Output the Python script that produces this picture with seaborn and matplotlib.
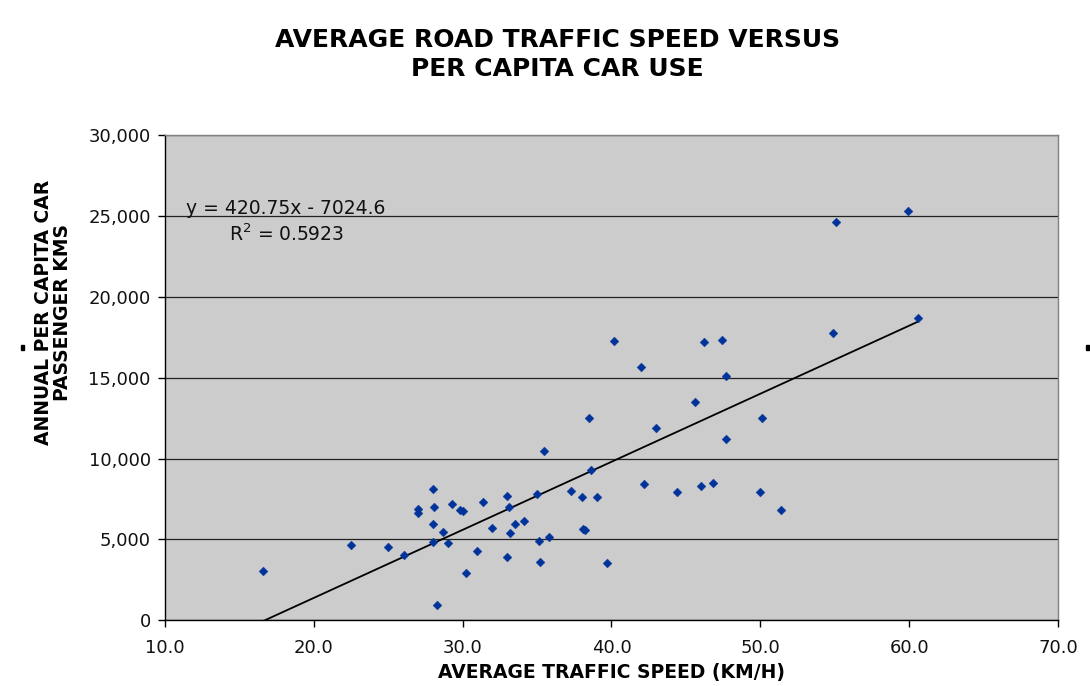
import matplotlib
matplotlib.use("Agg")
import matplotlib.pyplot as plt
import matplotlib.ticker as ticker
from matplotlib.patches import Rectangle
import seaborn as sns
import pandas as pd

sns.set_style("white")
plt.rcParams["font.family"] = ["DejaVu Sans"]
plt.rcParams["text.color"] = "black"
plt.rcParams["axes.labelcolor"] = "black"

# average traffic speed (km/h) per city
speed = [16.6, 22.5, 25.0, 26.1, 28.0, 28.1, 27.0, 27.0, 28.0, 28.0,
         28.3, 28.7, 29.0, 29.3, 29.8, 30.0, 30.2, 31.0, 31.4, 32.0,
         33.0, 33.1, 33.0, 33.2, 33.5, 34.1, 35.0, 35.1, 35.2, 35.5,
         35.8, 37.3, 38.0, 38.1, 38.2, 38.5, 38.6, 39.0, 39.7, 40.2,
         42.0, 42.2, 43.0, 44.4, 45.6, 46.0, 46.2, 46.8, 47.4, 47.7,
         47.7, 50.0, 50.1, 51.4, 54.9, 55.1, 59.9, 60.6]

# annual per capita car passenger kms
car_km = [3050, 4640, 4530, 4060, 8120, 6990, 6650, 6880, 5970, 4840,
          930, 5440, 4780, 7170, 6820, 6740, 2930, 4300, 7300, 5690,
          7670, 7010, 3900, 5380, 5940, 6160, 7830, 4900, 3590, 10470,
          5150, 7980, 7610, 5650, 5570, 12510, 9280, 7610, 3530, 17290,
          15680, 8430, 11910, 7950, 13520, 8310, 17230, 8490, 17350, 15090,
          11190, 7950, 12510, 6820, 17770, 24610, 25330, 18680]

df = pd.DataFrame({"speed": speed, "car_km": car_km})

fig = plt.figure(figsize=(10.9, 6.86), dpi=100)
ax = fig.add_axes([0.1511, 0.0958, 0.8198, 0.707])
ax.set_facecolor("#CCCCCC")

ax.set_axisbelow(True)
ax.yaxis.grid(True, color="#222222", linewidth=0.9)
ax.xaxis.grid(False)

sns.regplot(data=df, x="speed", y="car_km", scatter=False, ci=None, ax=ax,
            line_kws={"color": "black", "linewidth": 1.3})
sns.scatterplot(data=df, x="speed", y="car_km", ax=ax, marker="D", s=20,
                color="#00339A", edgecolor="#00339A", linewidth=0.3, zorder=3)

ax.set_xlim(10, 70)
ax.set_ylim(0, 30000)
ax.xaxis.set_major_locator(ticker.MultipleLocator(10))
ax.yaxis.set_major_locator(ticker.MultipleLocator(5000))
ax.xaxis.set_major_formatter(ticker.FuncFormatter(lambda v, p: f"{v:.1f}"))
ax.yaxis.set_major_formatter(ticker.FuncFormatter(lambda v, p: f"{v:,.0f}"))
ax.tick_params(axis="both", direction="out", length=5, width=1, color="black",
               labelsize=13, labelcolor="#111111", left=True, bottom=True)
ax.tick_params(axis="x", pad=8.5)
ax.tick_params(axis="y", pad=5)

for side in ["left", "bottom"]:
    ax.spines[side].set_color("black")
    ax.spines[side].set_linewidth(1)
for side in ["top", "right"]:
    ax.spines[side].set_color("#808080")
    ax.spines[side].set_linewidth(1)

ax.set_xlabel("AVERAGE TRAFFIC SPEED (KM/H)", fontsize=13.5, fontweight="bold", labelpad=4)
ax.set_ylabel("ANNUAL PER CAPITA CAR\nPASSENGER KMS", fontsize=13.5, fontweight="bold",
              linespacing=1.0)
ax.yaxis.set_label_coords(-0.104, 0.634)

ax.text(18.15, 25450, "y = 420.75x - 7024.6", fontsize=13.5, ha="center", va="center",
        color="#111111")
ax.text(18.15, 23850, "R$^2$ = 0.5923", fontsize=13.5, ha="center", va="center",
        color="#111111")

fig.text(0.5115, 0.921, "AVERAGE ROAD TRAFFIC SPEED VERSUS\nPER CAPITA CAR USE",
         ha="center", va="center", fontsize=18, fontweight="bold", linespacing=1.25)

# small selection handles at the sides of the chart
fig.patches.append(Rectangle((21 / 1090, 1 - 350 / 686), 2.5 / 1090, 5 / 686,
                             transform=fig.transFigure, color="black"))
fig.patches.append(Rectangle((1086 / 1090, 1 - 350 / 686), 3 / 1090, 5 / 686,
                             transform=fig.transFigure, color="black"))

fig.savefig("out.png", dpi=100)
